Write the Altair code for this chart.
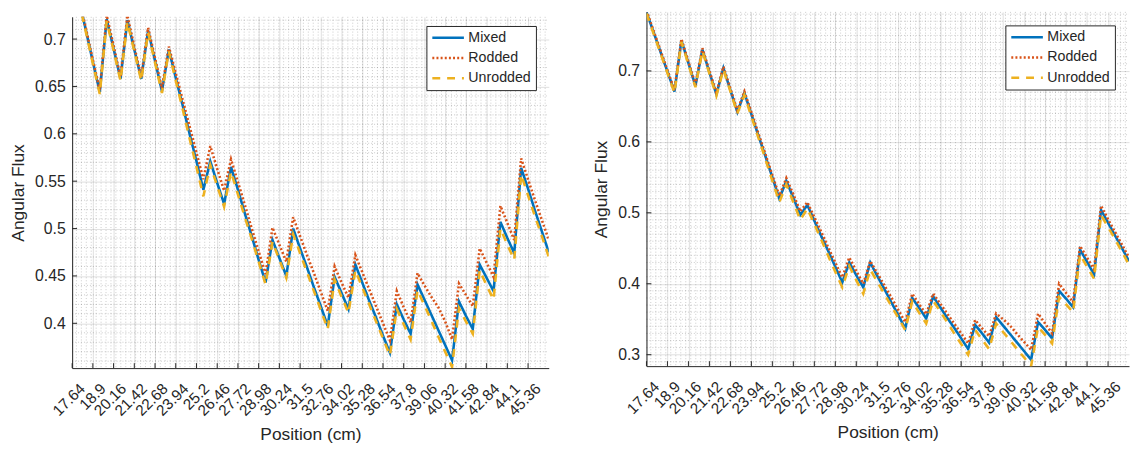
import altair as alt
import pandas as pd

FONT = "Liberation Sans"
INK = "#262626"

SERIES = ["Mixed", "Rodded", "Unrodded"]
COLORS = ["#0072BD", "#D95319", "#EDB120"]
DASHES = [[1, 0], [2, 2.2], [8, 7]]

X_DOMAIN = [17.64, 46.62]
X_TICKS = [17.64, 18.9, 20.16, 21.42, 22.68, 23.94, 25.2, 26.46, 27.72, 28.98,
           30.24, 31.5, 32.76, 34.02, 35.28, 36.54, 37.8, 39.06, 40.32, 41.58,
           42.84, 44.1, 45.36]

POSITION_CM = [17.64, 18.06, 18.48, 18.9, 19.32, 19.74, 20.16, 20.58, 21.0, 21.42,
               21.84, 22.26, 22.68, 23.1, 23.52, 23.94, 24.36, 24.78, 25.2, 25.62,
               26.04, 26.46, 26.88, 27.3, 27.72, 28.14, 28.56, 28.98, 29.4, 29.82,
               30.24, 30.66, 31.08, 31.5, 31.92, 32.34, 32.76, 33.18, 33.6, 34.02,
               34.44, 34.86, 35.28, 35.7, 36.12, 36.54, 36.96, 37.38, 37.8, 38.22,
               38.64, 39.06, 39.48, 39.9, 40.32, 40.74, 41.16, 41.58, 42.0, 42.42,
               42.84, 43.26, 43.68, 44.1, 44.52, 44.94, 45.36, 45.78, 46.2, 46.62]

# ---- left panel ----
LEFT_MIXED = [0.774, 0.741, 0.709, 0.676, 0.644, 0.721, 0.690, 0.658, 0.720, 0.689,
              0.658, 0.709, 0.677, 0.645, 0.689, 0.659, 0.630, 0.600, 0.571, 0.541,
              0.571, 0.548, 0.526, 0.565, 0.541, 0.516, 0.492, 0.467, 0.443, 0.488,
              0.469, 0.450, 0.500, 0.479, 0.459, 0.438, 0.418, 0.397, 0.449, 0.432,
              0.415, 0.462, 0.443, 0.424, 0.406, 0.387, 0.369, 0.420, 0.404, 0.389,
              0.441, 0.425, 0.409, 0.393, 0.377, 0.361, 0.423, 0.408, 0.394, 0.462,
              0.448, 0.434, 0.507, 0.490, 0.474, 0.564, 0.542, 0.519, 0.497, 0.475]
LEFT_RODDED = [0.776, 0.743, 0.711, 0.678, 0.646, 0.725, 0.693, 0.660, 0.725, 0.692,
               0.660, 0.712, 0.680, 0.648, 0.692, 0.664, 0.636, 0.608, 0.580, 0.552,
               0.587, 0.563, 0.540, 0.573, 0.549, 0.525, 0.500, 0.476, 0.452, 0.501,
               0.483, 0.465, 0.512, 0.492, 0.472, 0.453, 0.433, 0.413, 0.460, 0.443,
               0.427, 0.472, 0.454, 0.436, 0.418, 0.400, 0.382, 0.434, 0.417, 0.401,
               0.453, 0.440, 0.428, 0.417, 0.402, 0.383, 0.442, 0.430, 0.418, 0.479,
               0.464, 0.449, 0.524, 0.506, 0.488, 0.574, 0.552, 0.530, 0.509, 0.488]
LEFT_UNRODDED = [0.772, 0.739, 0.707, 0.674, 0.642, 0.719, 0.688, 0.656, 0.718, 0.687,
                 0.656, 0.707, 0.675, 0.643, 0.687, 0.656, 0.626, 0.595, 0.565, 0.534,
                 0.567, 0.545, 0.523, 0.560, 0.536, 0.512, 0.489, 0.465, 0.441, 0.486,
                 0.467, 0.448, 0.494, 0.474, 0.454, 0.434, 0.414, 0.394, 0.446, 0.428,
                 0.411, 0.456, 0.438, 0.420, 0.402, 0.384, 0.366, 0.415, 0.399, 0.383,
                 0.435, 0.419, 0.403, 0.386, 0.370, 0.354, 0.416, 0.402, 0.389, 0.456,
                 0.440, 0.425, 0.500, 0.483, 0.467, 0.557, 0.535, 0.513, 0.492, 0.470]
LEFT_Y_DOMAIN = [0.3527, 0.7235]
LEFT_Y_TICKS = [0.4, 0.45, 0.5, 0.55, 0.6, 0.65, 0.7]
LEFT_Y_MINOR = [0.36, 0.37, 0.38, 0.39, 0.41, 0.42, 0.43, 0.44, 0.46, 0.47, 0.48, 0.49,
                0.51, 0.52, 0.53, 0.54, 0.56, 0.57, 0.58, 0.59, 0.61, 0.62, 0.63, 0.64,
                0.66, 0.67, 0.68, 0.69, 0.71, 0.72]

# ---- right panel ----
RIGHT_MIXED = [0.783, 0.755, 0.727, 0.699, 0.671, 0.743, 0.711, 0.679, 0.730, 0.698,
               0.667, 0.704, 0.673, 0.642, 0.669, 0.639, 0.609, 0.580, 0.550, 0.520,
               0.545, 0.521, 0.497, 0.511, 0.489, 0.467, 0.446, 0.424, 0.402, 0.430,
               0.412, 0.395, 0.430, 0.411, 0.393, 0.374, 0.356, 0.337, 0.380, 0.366,
               0.351, 0.382, 0.367, 0.352, 0.338, 0.323, 0.308, 0.342, 0.330, 0.317,
               0.353, 0.341, 0.329, 0.317, 0.305, 0.293, 0.346, 0.335, 0.323, 0.390,
               0.379, 0.367, 0.448, 0.431, 0.413, 0.504, 0.486, 0.468, 0.450, 0.432]
RIGHT_RODDED = [0.785, 0.757, 0.729, 0.701, 0.673, 0.745, 0.713, 0.681, 0.732, 0.700,
                0.669, 0.706, 0.675, 0.644, 0.671, 0.642, 0.612, 0.583, 0.553, 0.524,
                0.549, 0.526, 0.502, 0.515, 0.494, 0.473, 0.451, 0.430, 0.409, 0.437,
                0.418, 0.400, 0.432, 0.415, 0.398, 0.381, 0.363, 0.346, 0.386, 0.371,
                0.357, 0.386, 0.372, 0.358, 0.344, 0.330, 0.316, 0.349, 0.337, 0.326,
                0.358, 0.350, 0.341, 0.329, 0.318, 0.307, 0.358, 0.344, 0.330, 0.400,
                0.387, 0.374, 0.453, 0.437, 0.420, 0.510, 0.491, 0.473, 0.455, 0.437]
RIGHT_UNRODDED = [0.781, 0.753, 0.725, 0.697, 0.669, 0.741, 0.709, 0.677, 0.728, 0.696,
                  0.665, 0.702, 0.671, 0.640, 0.666, 0.636, 0.606, 0.576, 0.545, 0.515,
                  0.540, 0.515, 0.490, 0.506, 0.484, 0.462, 0.439, 0.417, 0.395, 0.425,
                  0.405, 0.386, 0.420, 0.403, 0.386, 0.369, 0.352, 0.335, 0.375, 0.359,
                  0.344, 0.376, 0.361, 0.346, 0.330, 0.315, 0.300, 0.335, 0.321, 0.308,
                  0.344, 0.332, 0.320, 0.308, 0.296, 0.284, 0.339, 0.328, 0.316, 0.381,
                  0.371, 0.360, 0.441, 0.424, 0.407, 0.497, 0.480, 0.463, 0.445, 0.427]
RIGHT_Y_DOMAIN = [0.2839, 0.7832]
RIGHT_Y_TICKS = [0.3, 0.4, 0.5, 0.6, 0.7]
RIGHT_Y_MINOR = [0.29, 0.31, 0.32, 0.33, 0.34, 0.35, 0.36, 0.37, 0.38, 0.39,
                 0.41, 0.42, 0.43, 0.44, 0.45, 0.46, 0.47, 0.48, 0.49,
                 0.51, 0.52, 0.53, 0.54, 0.55, 0.56, 0.57, 0.58, 0.59,
                 0.61, 0.62, 0.63, 0.64, 0.65, 0.66, 0.67, 0.68, 0.69,
                 0.71, 0.72, 0.73, 0.74, 0.75, 0.76, 0.77, 0.78]

X_MINOR = [17.9, 18.2, 18.5, 18.8, 19.1, 19.4, 19.7, 20.0, 20.3, 20.6, 20.9, 21.2, 21.5,
           21.8, 22.1, 22.4, 22.7, 23.0, 23.3, 23.6, 23.9, 24.2, 24.5, 24.8, 25.1, 25.4,
           25.7, 26.0, 26.3, 26.6, 26.9, 27.2, 27.5, 27.8, 28.1, 28.4, 28.7, 29.0, 29.3,
           29.6, 29.9, 30.2, 30.5, 30.8, 31.1, 31.4, 31.7, 32.0, 32.3, 32.6, 32.9, 33.2,
           33.5, 33.8, 34.1, 34.4, 34.7, 35.0, 35.3, 35.6, 35.9, 36.2, 36.5, 36.8, 37.1,
           37.4, 37.7, 38.0, 38.3, 38.6, 38.9, 39.2, 39.5, 39.8, 40.1, 40.4, 40.7, 41.0,
           41.3, 41.6, 41.9, 42.2, 42.5, 42.8, 43.1, 43.4, 43.7, 44.0, 44.3, 44.6, 44.9,
           45.2, 45.5, 45.8, 46.1, 46.4]


def series_frame(mixed, rodded, unrodded):
    rows = []
    for name, vals in zip(SERIES, [mixed, rodded, unrodded]):
        for x, v in zip(POSITION_CM, vals):
            rows.append({"pos": x, "flux": v, "series": name})
    return pd.DataFrame(rows)


def panel(mixed, rodded, unrodded, ydom, yticks, yminor, w, h, title_x, leg_x, leg_y):
    df = series_frame(mixed, rodded, unrodded)
    xs = alt.Scale(domain=X_DOMAIN, nice=False, zero=False)
    ys = alt.Scale(domain=ydom, nice=False, zero=False)

    xaxis = alt.Axis(
        values=X_TICKS, labelExpr="format(datum.value, '.4~g')",
        labelAngle=-45, labelAlign="right", labelBaseline="top", labelFontSize=15.5,
        labelPadding=13, labelOffset=5, labelOverlap=False, labelFlush=False, labelBound=False,
        title="Position (cm)", titleY=72, titleBaseline="alphabetic", grid=True,
    )
    yaxis = alt.Axis(
        values=yticks, labelExpr="format(datum.value, '.3~g')",
        labelPadding=7, labelFlush=False, labelOverlap=False,
        title="Angular Flux", titleX=title_x, titleY=h / 2, titleAngle=270,
        titleAlign="center", titleBaseline="middle", grid=True,
    )
    X = alt.X("pos:Q", scale=xs, axis=xaxis)
    Y = alt.Y("flux:Q", scale=ys, axis=yaxis)

    minor_v = alt.Chart(pd.DataFrame({"pos": X_MINOR})).mark_rule(
        color=INK, opacity=0.3, strokeWidth=0.8, strokeDash=[1, 2]
    ).encode(x=X, y=alt.value(0), y2=alt.value(h))
    minor_h = alt.Chart(pd.DataFrame({"flux": yminor})).mark_rule(
        color=INK, opacity=0.3, strokeWidth=0.8, strokeDash=[1, 2]
    ).encode(y=Y, x=alt.value(0), x2=alt.value(w))

    legend = alt.Legend(
        title=None, orient="none", legendX=leg_x, legendY=leg_y,
        symbolType="stroke", symbolSize=1024, symbolStrokeWidth=2.5, clipHeight=15,
        labelFont=FONT, labelFontSize=14.4, labelColor=INK, labelOffset=3,
        strokeColor=INK, fillColor="white", padding=4.5, rowPadding=4.5, cornerRadius=0,
    )
    color = alt.Color("series:N", scale=alt.Scale(domain=SERIES, range=COLORS), legend=legend)
    dash = alt.StrokeDash("series:N", scale=alt.Scale(domain=SERIES, range=DASHES), legend=legend)

    lines = []
    for s in SERIES:
        lines.append(
            alt.Chart(df).transform_filter(alt.datum.series == s).mark_line(
                clip=True, strokeWidth=2.6
            ).encode(x=X, y=Y, color=color, strokeDash=dash)
        )

    xt = alt.Chart(pd.DataFrame({"pos": X_TICKS})).mark_rule(color=INK, strokeWidth=1).encode(
        x=X, y=alt.value(h), y2=alt.value(h - 5))
    yt = alt.Chart(pd.DataFrame({"flux": yticks})).mark_rule(color=INK, strokeWidth=1).encode(
        y=Y, x=alt.value(0), x2=alt.value(5))

    return alt.layer(minor_v, minor_h, *lines, xt, yt).properties(width=w, height=h)


left = panel(LEFT_MIXED, LEFT_RODDED, LEFT_UNRODDED, LEFT_Y_DOMAIN, LEFT_Y_TICKS, LEFT_Y_MINOR,
             483, 356, -54, 359, 14.3)
right = panel(RIGHT_MIXED, RIGHT_RODDED, RIGHT_UNRODDED, RIGHT_Y_DOMAIN, RIGHT_Y_TICKS, RIGHT_Y_MINOR,
              489, 359, -45.5, 363.7, 13.7)

# invisible strip that lowers the left panel's plot area a few pixels below the right one
spacer = alt.Chart(pd.DataFrame({"k": [0]})).mark_rule(opacity=0).encode(
    x=alt.value(0), x2=alt.value(1), y=alt.value(0)
).properties(width=483, height=3.7)
left_col = alt.vconcat(spacer, left, spacing=0)

chart = alt.hconcat(left_col, right, spacing=43).resolve_scale(
    color="independent", strokeDash="independent"
).resolve_legend(
    color="independent", strokeDash="independent"
).properties(
    padding={"left": 2, "top": 0, "right": 0, "bottom": 0}
).configure_view(stroke=None).configure_axis(
    labelFont=FONT, labelFontSize=16, labelColor=INK,
    titleFont=FONT, titleFontSize=17.6, titleColor=INK, titleFontWeight="normal",
    domainColor=INK, domainWidth=1, ticks=False,
    gridColor=INK, gridOpacity=0.15, gridWidth=1,
)

chart.save("out.html", embed_options={"renderer": "svg", "actions": False})
